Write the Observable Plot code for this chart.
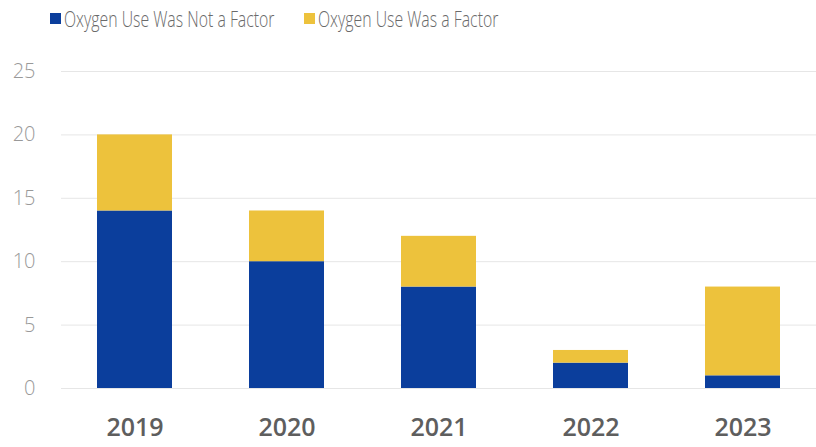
<!DOCTYPE html>
<html>
<head>
<meta charset="utf-8">
<script src="https://cdn.jsdelivr.net/npm/d3@7"></script>
<script src="https://cdn.jsdelivr.net/npm/@observablehq/plot@0.6"></script>
<style>
  html, body { margin: 0; padding: 0; background: #fff; }
  body { width: 816px; height: 447px; overflow: hidden; font-family: "Open Sans", sans-serif; }
  #legend { position: relative; height: 40px; font-size: 22px; font-weight: 300; color: #6a6a6a; }
  .item { position: absolute; top: 0; height: 36px; display: flex; align-items: center; white-space: nowrap; }
  .sw { width: 11px; height: 11px; display: inline-block; margin-right: 3px; }
  .lab { display: inline-block; transform: scaleX(0.72); transform-origin: left center; }
</style>
</head>
<body>
<div id="legend"></div>
<div id="chart"></div>
<script>
const years = ["2019", "2020", "2021", "2022", "2023"];
const notFactor = [14, 10, 8, 2, 1];
const wasFactor = [6, 4, 4, 1, 7];
const seriesNames = ["Oxygen Use Was Not a Factor", "Oxygen Use Was a Factor"];
const seriesColors = ["#0b3e9c", "#edc23c"];
const yTicks = [0, 5, 10, 15, 20, 25];
const legendLeft = [50, 304];

const data = [];
years.forEach((y, i) => {
  data.push({year: y, series: seriesNames[0], value: notFactor[i]});
  data.push({year: y, series: seriesNames[1], value: wasFactor[i]});
});

const legend = document.getElementById("legend");
seriesNames.forEach((s, i) => {
  const it = document.createElement("div");
  it.className = "item";
  it.style.left = legendLeft[i] + "px";
  it.innerHTML = `<span class="sw" style="background:${seriesColors[i]}"></span><span class="lab">${s}</span>`;
  legend.appendChild(it);
});

const chart = Plot.plot({
  width: 816,
  height: 407,
  marginLeft: 61,
  marginRight: 0,
  marginTop: 31,
  marginBottom: 59,
  style: {fontFamily: "Open Sans, sans-serif", background: "#fff"},
  x: {domain: years, paddingInner: 0.508, paddingOuter: 0.229, label: null},
  y: {domain: [0, 25], ticks: yTicks, label: null},
  color: {domain: seriesNames, range: seriesColors},
  marks: [
    Plot.gridY(yTicks, {stroke: "#e6e6e6", strokeOpacity: 1, strokeWidth: 1}),
    Plot.barY(data, Plot.stackY({x: "year", y: "value", fill: "series", order: seriesNames})),
    Plot.axisY(yTicks, {tickSize: 0, tickPadding: 26, fontSize: 20, fontWeight: 300, fill: "#999", label: null}),
    Plot.axisX({tickSize: 0, tickPadding: 30, fontSize: 25, fill: "#5e5e5e", fontWeight: 600, label: null})
  ]
});
document.getElementById("chart").appendChild(chart);
</script>
</body>
</html>
